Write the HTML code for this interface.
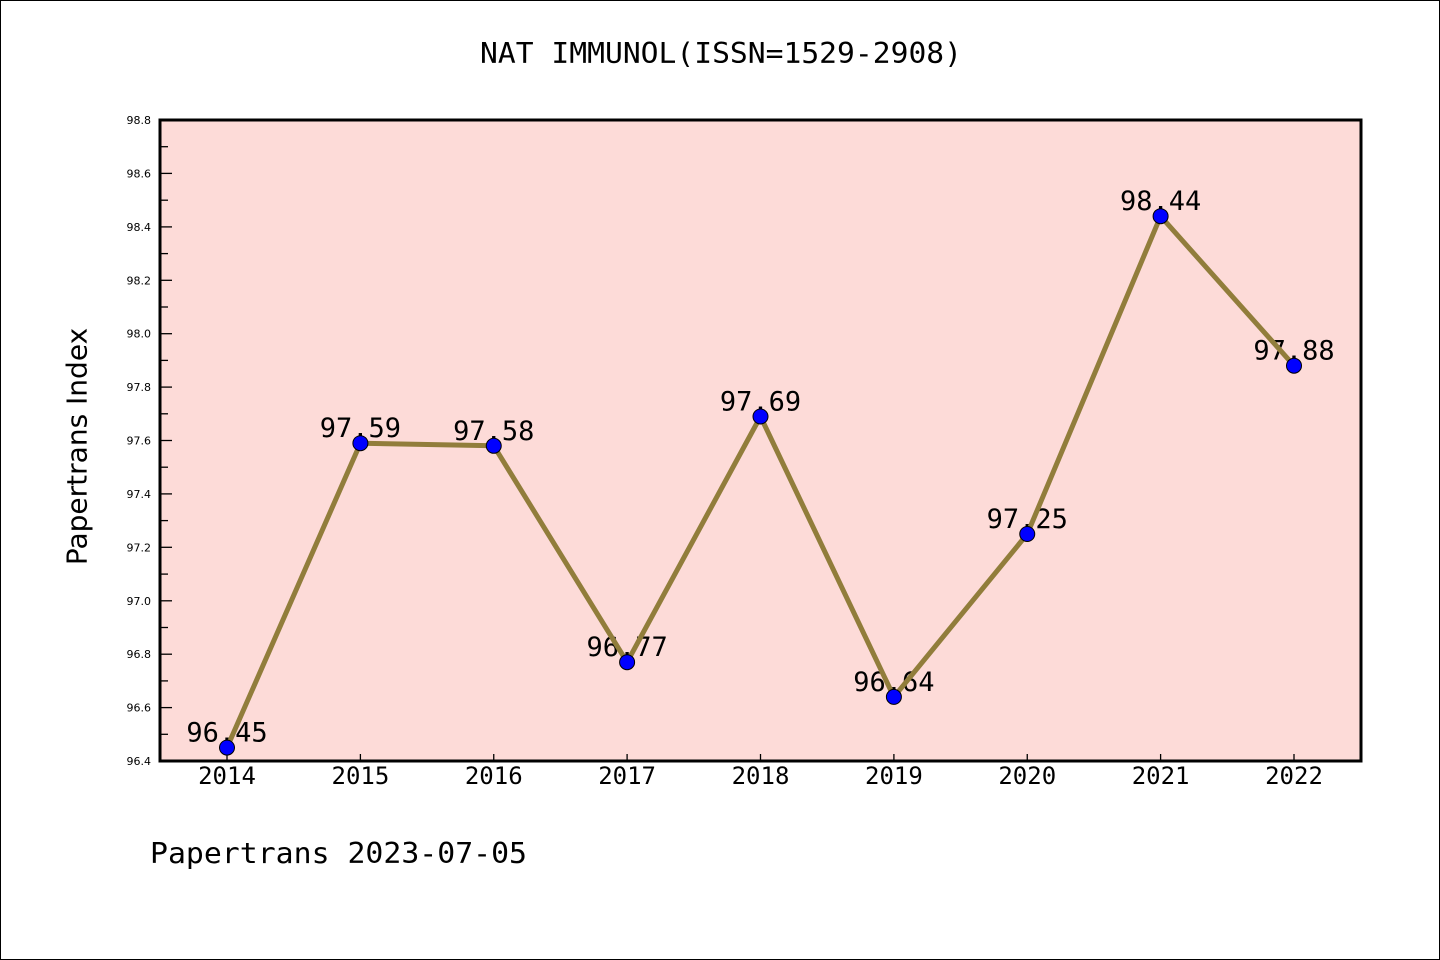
<!DOCTYPE html>
<html><head><meta charset="utf-8"><style>
html,body{margin:0;padding:0;background:#fff;}
svg{display:block;}
text{font-family:"DejaVu Sans Mono","Liberation Mono",monospace;fill:#000;}
.sans{font-family:"DejaVu Sans","Liberation Sans",sans-serif;}
</style></head><body>
<svg width="1440" height="960" viewBox="0 0 1440 960" xmlns="http://www.w3.org/2000/svg">
<rect x="0.5" y="0.5" width="1439" height="959" fill="#fff" stroke="#000" stroke-width="1"/>
<text x="721" y="63" font-size="28.5" text-anchor="middle" textLength="482" lengthAdjust="spacingAndGlyphs">NAT IMMUNOL(ISSN=1529-2908)</text>
<rect x="160" y="120" width="1201" height="641" fill="#FDDBD8"/>
<g stroke="#000" stroke-width="1.3">
<line x1="160" y1="761" x2="172" y2="761"/><line x1="160" y1="734.3" x2="168" y2="734.3"/>
<line x1="160" y1="707.6" x2="172" y2="707.6"/><line x1="160" y1="680.9" x2="168" y2="680.9"/>
<line x1="160" y1="654.2" x2="172" y2="654.2"/><line x1="160" y1="627.5" x2="168" y2="627.5"/>
<line x1="160" y1="600.8" x2="172" y2="600.8"/><line x1="160" y1="574.1" x2="168" y2="574.1"/>
<line x1="160" y1="547.3" x2="172" y2="547.3"/><line x1="160" y1="520.6" x2="168" y2="520.6"/>
<line x1="160" y1="493.9" x2="172" y2="493.9"/><line x1="160" y1="467.2" x2="168" y2="467.2"/>
<line x1="160" y1="440.5" x2="172" y2="440.5"/><line x1="160" y1="413.8" x2="168" y2="413.8"/>
<line x1="160" y1="387.1" x2="172" y2="387.1"/><line x1="160" y1="360.4" x2="168" y2="360.4"/>
<line x1="160" y1="333.7" x2="172" y2="333.7"/><line x1="160" y1="307" x2="168" y2="307"/>
<line x1="160" y1="280.3" x2="172" y2="280.3"/><line x1="160" y1="253.6" x2="168" y2="253.6"/>
<line x1="160" y1="226.9" x2="172" y2="226.9"/><line x1="160" y1="200.2" x2="168" y2="200.2"/>
<line x1="160" y1="173.4" x2="172" y2="173.4"/><line x1="160" y1="146.7" x2="168" y2="146.7"/>
<line x1="160" y1="120" x2="172" y2="120"/>
<line x1="227" y1="761" x2="227" y2="754"/><line x1="360.4" y1="761" x2="360.4" y2="754"/>
<line x1="493.75" y1="761" x2="493.75" y2="754"/><line x1="627.1" y1="761" x2="627.1" y2="754"/>
<line x1="760.5" y1="761" x2="760.5" y2="754"/><line x1="893.9" y1="761" x2="893.9" y2="754"/>
<line x1="1027.25" y1="761" x2="1027.25" y2="754"/><line x1="1160.6" y1="761" x2="1160.6" y2="754"/>
<line x1="1294" y1="761" x2="1294" y2="754"/>
</g>
<g text-anchor="end">
<text class="sans" font-size="11" x="151" y="765">96.4</text><text class="sans" font-size="11" x="151" y="711.6">96.6</text><text class="sans" font-size="11" x="151" y="658.2">96.8</text>
<text class="sans" font-size="11" x="151" y="604.8">97.0</text><text class="sans" font-size="11" x="151" y="551.3">97.2</text><text class="sans" font-size="11" x="151" y="497.9">97.4</text>
<text class="sans" font-size="11" x="151" y="444.5">97.6</text><text class="sans" font-size="11" x="151" y="391.1">97.8</text><text class="sans" font-size="11" x="151" y="337.7">98.0</text>
<text class="sans" font-size="11" x="151" y="284.3">98.2</text><text class="sans" font-size="11" x="151" y="230.9">98.4</text><text class="sans" font-size="11" x="151" y="177.4">98.6</text>
<text class="sans" font-size="11" x="151" y="124">98.8</text>
</g>
<g font-size="24" text-anchor="middle">
<text x="227" y="784">2014</text><text x="360.4" y="784">2015</text><text x="493.75" y="784">2016</text>
<text x="627.1" y="784">2017</text><text x="760.5" y="784">2018</text><text x="893.9" y="784">2019</text>
<text x="1027.25" y="784">2020</text><text x="1160.6" y="784">2021</text><text x="1294" y="784">2022</text>
</g>
<text class="sans" transform="translate(86.5,446.5) rotate(-90)" font-size="28" text-anchor="middle">Papertrans Index</text>
<g font-size="27" text-anchor="middle">
<text x="227" y="741.6">96.45</text>
<text x="360.4" y="437.2">97.59</text>
<text x="493.75" y="439.8">97.58</text>
<text x="627.1" y="656.2">96.77</text>
<text x="760.5" y="410.5">97.69</text>
<text x="893.9" y="690.9">96.64</text>
<text x="1027.25" y="528">97.25</text>
<text x="1160.6" y="210.2">98.44</text>
<text x="1294" y="359.7">97.88</text>
</g>
<polyline fill="none" stroke="#917D3B" stroke-width="5" stroke-linejoin="round" stroke-linecap="round"
 points="227,747.6 360.4,443.2 493.75,445.8 627.1,662.2 760.5,416.5 893.9,696.9 1027.25,534 1160.6,216.2 1294,365.7"/>
<g fill="#0000FF" stroke="#000" stroke-width="1">
<circle cx="227" cy="747.6" r="7.5"/><circle cx="360.4" cy="443.2" r="7.5"/>
<circle cx="493.75" cy="445.8" r="7.5"/><circle cx="627.1" cy="662.2" r="7.5"/>
<circle cx="760.5" cy="416.5" r="7.5"/><circle cx="893.9" cy="696.9" r="7.5"/>
<circle cx="1027.25" cy="534" r="7.5"/><circle cx="1160.6" cy="216.2" r="7.5"/>
<circle cx="1294" cy="365.7" r="7.5"/>
</g>
<rect x="160" y="120" width="1201" height="641" fill="none" stroke="#000" stroke-width="3"/>
<text x="150" y="863" font-size="28.5" textLength="377" lengthAdjust="spacingAndGlyphs">Papertrans 2023-07-05</text>
</svg>
</body></html>
